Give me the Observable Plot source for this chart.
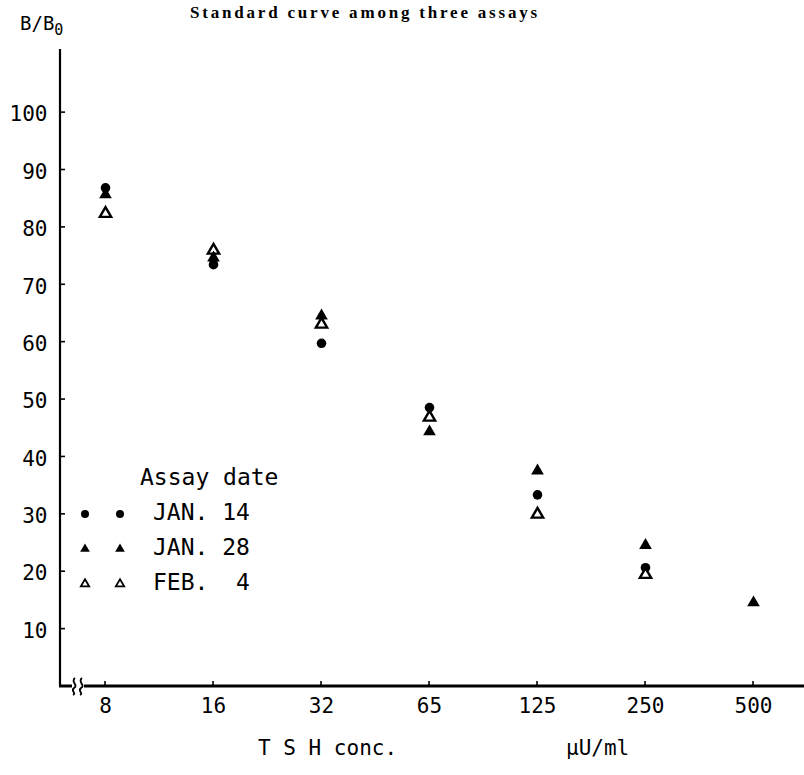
<!DOCTYPE html>
<html>
<head>
<meta charset="utf-8">
<script src="https://cdn.jsdelivr.net/npm/d3@7"></script>
<script src="https://cdn.jsdelivr.net/npm/@observablehq/plot@0.6"></script>
<style>
  html, body { margin: 0; padding: 0; background: #fff; }
  #wrap { position: relative; width: 804px; height: 775px; overflow: hidden; }
  .lbl { position: absolute; white-space: pre; color: #000; font-family: "DejaVu Sans Mono", monospace; line-height: 1; }
  #title { font-family: "Liberation Serif", "DejaVu Serif", serif; font-weight: bold; font-size: 17px; letter-spacing: 2.8px; left: 190px; top: 4px; }
  #ylab { font-size: 19px; left: 20px; top: 14px; }
  #ylab sub { font-size: 15px; vertical-align: -5px; }
  #xlab1 { font-size: 21px; left: 258px; top: 738px; }
  #xlab2 { font-size: 21px; left: 566px; top: 738px; }
  #legend { position: absolute; left: 70px; top: 466px; }
  #legend .title { font-size: 23px; position: absolute; left: 70px; top: 0px; }
  #legend .row { position: absolute; left: 0; height: 30px; }
  #legend .row span { font-size: 23px; position: absolute; left: 83px; top: 0; }
</style>
</head>
<body>
<div id="wrap"></div>
<script>
// ---- data ----
const concLabels = ["8", "16", "32", "65", "125", "250", "500"];
const jan14 = [86.9, 73.5, 59.8, 48.6, 33.4, 20.7, null];
const jan28 = [85.7, 74.7, 64.6, 44.4, 37.6, 24.6, 14.6];
const feb4  = [82.4, 76.0, 63.1, 46.9, 30.0, 19.5, null];
const yTicks = [10, 20, 30, 40, 50, 60, 70, 80, 90, 100];
const seriesNames = ["JAN. 14", "JAN. 28", "FEB.  4"];

const rows = (vals) => concLabels.map((c, i) => ({conc: c, v: vals[i]})).filter(d => d.v != null);

const tickFont = "DejaVu Sans Mono, monospace";

const plot = Plot.plot({
  width: 804,
  height: 775,
  marginLeft: 60,
  marginRight: 0,
  marginTop: 49,
  marginBottom: 89,
  style: { fontFamily: tickFont, fontSize: "21px", background: "#fff", color: "#000" },
  x: { type: "point", domain: concLabels, range: [104, 754], padding: 0, label: null },
  y: { domain: [0, 111], label: null },
  marks: [
    Plot.axisY(yTicks, { tickSize: 0, tickPadding: 13, fontSize: 21, label: null, dy: 2 }),
    Plot.axisX(concLabels, { tickSize: 0, tickPadding: 12, fontSize: 21, label: null }),
    Plot.dot(rows(jan14), { x: "conc", y: "v", r: 4.8, fill: "#000", stroke: "none" }),
    Plot.dot(rows(feb4), { x: "conc", y: "v", symbol: "triangle", r: 4.2, fill: "#fff", stroke: "#000", strokeWidth: 2.4 }),
    Plot.dot(rows(jan28), { x: "conc", y: "v", symbol: "triangle", r: 4.7, fill: "#000", stroke: "none" })
  ]
});

const wrap = document.getElementById("wrap");
wrap.appendChild(plot);

// axis frame drawn with the plot's own scales
const sx = plot.scale("x"), sy = plot.scale("y");
const svg = d3.select(plot);
const y0 = sy.apply(0), yTop = sy.apply(111);
const xLeft = 60;
const g = svg.append("g").attr("stroke", "#000").attr("fill", "none");
// y axis line
g.append("line").attr("x1", xLeft).attr("x2", xLeft).attr("y1", yTop).attr("y2", y0).attr("stroke-width", 2.2);
// x axis line: corner piece then after break
g.append("line").attr("x1", xLeft - 1).attr("x2", 72).attr("y1", y0).attr("y2", y0).attr("stroke-width", 3);
g.append("line").attr("x1", 84).attr("x2", 804).attr("y1", y0).attr("y2", y0).attr("stroke-width", 3);
// break squiggles
for (const bx of [74, 81]) {
  g.append("path")
    .attr("d", `M${bx+1},${y0-8} C${bx-4},${y0-4} ${bx+5},${y0-1} ${bx},${y0+2} C${bx-4},${y0+5} ${bx+3},${y0+7} ${bx-1},${y0+9}`)
    .attr("stroke-width", 1.8);
}
// y ticks (inward)
for (const t of yTicks) {
  g.append("line").attr("x1", xLeft).attr("x2", xLeft + 5).attr("y1", sy.apply(t)).attr("y2", sy.apply(t)).attr("stroke-width", 1.6);
}
// x ticks (upward)
for (const c of concLabels) {
  g.append("line").attr("x1", sx.apply(c)).attr("x2", sx.apply(c)).attr("y1", y0).attr("y2", y0 - 5).attr("stroke-width", 1.6);
}

// texts
function addLabel(id, html) {
  const d = document.createElement("div");
  d.className = "lbl"; d.id = id; d.innerHTML = html;
  wrap.appendChild(d);
  return d;
}
addLabel("title", "Standard curve among three assays");
addLabel("ylab", "B/B<sub>0</sub>");
addLabel("xlab1", "T S H conc.");
addLabel("xlab2", "µU/ml");

// legend
const legend = document.createElement("div");
legend.id = "legend";
wrap.appendChild(legend);
const lt = document.createElement("div");
lt.className = "lbl title"; lt.textContent = "Assay date";
legend.appendChild(lt);
const legendSymbols = [
  { symbol: "circle", fill: "#000", stroke: "none", r: 4.0 },
  { symbol: "triangle", fill: "#000", stroke: "none", r: 3.6 },
  { symbol: "triangle", fill: "#fff", stroke: "#000", r: 3.1 }
];
seriesNames.forEach((name, i) => {
  const row = document.createElement("div");
  row.className = "row";
  row.style.top = (35 + i * 35) + "px";
  const s = legendSymbols[i];
  const sym = d3.symbol(s.symbol === "circle" ? d3.symbolCircle : d3.symbolTriangle, Math.PI * s.r * s.r)();
  const svgS = d3.create("svg").attr("width", 70).attr("height", 26).style("position", "absolute").style("left", "0px").style("top", "0px");
  for (const cx of [15, 50]) {
    svgS.append("path").attr("d", sym).attr("transform", `translate(${cx},13)`)
      .attr("fill", s.fill).attr("stroke", s.stroke).attr("stroke-width", 1.8);
  }
  row.appendChild(svgS.node());
  const sp = document.createElement("span");
  sp.className = "lbl"; sp.textContent = name;
  row.appendChild(sp);
  legend.appendChild(row);
});
</script>
</body>
</html>
